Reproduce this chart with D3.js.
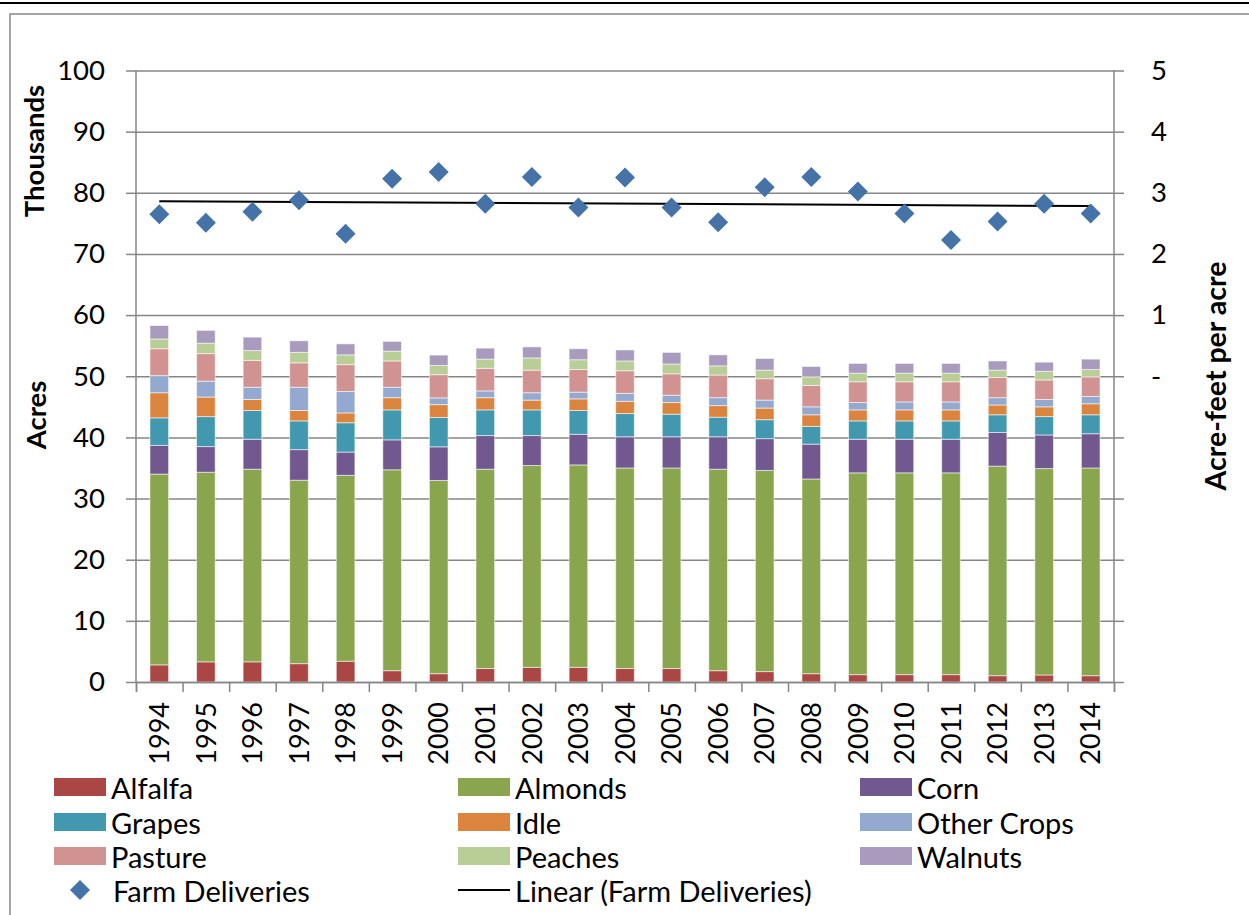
<!DOCTYPE html>
<html><head><meta charset="utf-8">
<script src="https://cdn.jsdelivr.net/npm/d3@7"></script>
<style>body{margin:0;background:#fff} text{font-family:Lato,"Open Sans",sans-serif;fill:#000}</style>
</head><body><svg id="c" width="1249" height="915"></svg>
<script>
const years = ["1994","1995","1996","1997","1998","1999","2000","2001","2002","2003","2004","2005","2006","2007","2008","2009","2010","2011","2012","2013","2014"];
const crops = ["Alfalfa","Almonds","Corn","Grapes","Idle","Other Crops","Pasture","Peaches","Walnuts"];
const cropColors = ["#AA4643","#89A54E","#71588F","#4198AF","#DB843D","#93A9CF","#D19392","#B9CD96","#A99BBD"];
// thousands of acres
const alfalfa    = [2.8,3.3,3.3,3.0,3.4,1.85,1.36,2.2,2.4,2.4,2.2,2.2,1.85,1.7,1.36,1.2,1.2,1.2,1.03,1.15,1.03];
const almonds    = [31.2,31.0,31.5,30.0,30.4,32.85,31.6,32.6,33.0,33.1,32.8,32.8,32.95,32.9,31.84,33.0,33.0,33.0,34.27,33.75,33.97];
const corn       = [4.7,4.2,4.9,5.0,3.8,4.9,5.5,5.5,4.9,5.0,5.1,5.1,5.3,5.2,5.7,5.5,5.5,5.5,5.5,5.5,5.6];
const grapes     = [4.5,4.9,4.7,4.7,4.8,4.9,4.8,4.2,4.2,3.9,3.8,3.7,3.2,3.1,2.9,3.0,3.0,3.0,2.9,3.0,3.1];
const idle       = [4.1,3.2,1.8,1.7,1.6,2.0,2.1,2.0,1.6,1.9,2.0,1.9,1.9,1.9,1.9,1.8,1.8,1.8,1.6,1.6,1.8];
const otherCrops = [2.8,2.6,2.0,3.8,3.5,1.7,1.1,1.1,1.2,1.1,1.3,1.2,1.3,1.3,1.3,1.2,1.3,1.3,1.2,1.2,1.2];
const pasture    = [4.4,4.5,4.4,4.0,4.4,4.3,3.8,3.7,3.7,3.7,3.7,3.5,3.7,3.5,3.5,3.4,3.3,3.3,3.3,3.2,3.2];
const peaches    = [1.6,1.7,1.6,1.7,1.6,1.6,1.5,1.5,2.0,1.6,1.6,1.6,1.5,1.4,1.4,1.4,1.4,1.4,1.2,1.4,1.2];
const walnuts    = [2.2,2.1,2.2,1.9,1.8,1.6,1.7,1.8,1.8,1.8,1.8,1.9,1.8,1.9,1.7,1.6,1.6,1.6,1.5,1.5,1.7];
// acre-feet per acre
const farmDeliveries = [2.65,2.51,2.69,2.88,2.33,3.23,3.34,2.82,3.26,2.76,3.25,2.76,2.52,3.09,3.26,3.02,2.66,2.23,2.53,2.82,2.66];
const leftTicks = [0,10,20,30,40,50,60,70,80,90,100];
const rightTicks = [-5,-4,-3,-2,-1,0,1,2,3,4,5];

const series = [alfalfa,almonds,corn,grapes,idle,otherCrops,pasture,peaches,walnuts];
const table = years.map((yr,i)=>{const o={year:yr}; crops.forEach((c,k)=>o[c]=series[k][i]); return o;});

const svg = d3.select("#c");
const L=136, R=1114, B=682, T=70.5;
const x = d3.scaleBand().domain(years).range([L,R]).paddingInner(0.6).paddingOuter(0.3);
const y = d3.scaleLinear().domain([0,100]).range([B,T]);
const y2 = d3.scaleLinear().domain([-5,5]).range([B,T]);
const grey="#868686";

// frame
svg.append("line").attr("x1",0).attr("x2",1249).attr("y1",3).attr("y2",3).attr("stroke","#000").attr("stroke-width",2);
svg.append("rect").attr("x",10).attr("y",14).attr("width",1300).attr("height",1000).attr("fill","none").attr("stroke",grey).attr("stroke-width",1.5);

// gridlines
const grid = svg.append("g").attr("transform",`translate(${L},0)`)
  .call(d3.axisLeft(y).tickValues(leftTicks).tickSize(-(R-L)).tickFormat(""));
grid.select(".domain").remove();
grid.selectAll("line").attr("stroke",grey).attr("stroke-width",1.5);

// stacked bars
const stack = d3.stack().keys(crops)(table);
const color = d3.scaleOrdinal().domain(crops).range(cropColors);
svg.append("g").selectAll("g").data(stack).join("g").attr("fill",d=>color(d.key))
  .selectAll("rect").data(d=>d).join("rect")
  .attr("x",d=>x(d.data.year)).attr("width",x.bandwidth())
  .attr("y",d=>y(d[1])).attr("height",d=>y(d[0])-y(d[1]))
  .attr("stroke","rgba(255,255,255,0.55)").attr("stroke-width",1);

// axes
const ax = svg.append("g").attr("transform",`translate(${L},0)`)
  .call(d3.axisLeft(y).tickValues(leftTicks).tickSize(10).tickPadding(21).tickFormat(d3.format("d")));
const ax2 = svg.append("g").attr("transform",`translate(${R},0)`)
  .call(d3.axisRight(y2).tickValues(rightTicks).tickSize(10).tickPadding(27).tickFormat(v=>v<0?"":(v===0?"-":String(v))));
const xi = d3.scaleLinear().domain([0,years.length]).range([L,R]);
const axb = svg.append("g").attr("transform",`translate(0,${B})`)
  .call(d3.axisBottom(xi).tickValues(d3.range(years.length+1)).tickSize(10).tickFormat(""));
const axl = svg.append("g").attr("transform",`translate(0,${B})`)
  .call(d3.axisBottom(x).tickSize(0).tickPadding(0));
axl.select(".domain").remove();
axl.selectAll("text").attr("transform","rotate(-90)").attr("text-anchor","end")
  .attr("x",-20).attr("y",0).attr("dy","0.36em").style("font-size","27px");
[ax,ax2,axb].forEach(g=>{g.selectAll("line").attr("stroke",grey).attr("stroke-width",1.5);
  g.select(".domain").attr("stroke",grey).attr("stroke-width",1.5);});
ax.select(".domain").attr("d",`M0,${B}V${T}`);
ax2.select(".domain").attr("d",`M0,${B}V${T}`);
[ax,ax2].forEach(g=>g.selectAll("text").style("font-size","27.5px"));

// trend line (least squares on farm deliveries)
const n=farmDeliveries.length, idx=d3.range(n);
const mx=d3.mean(idx), my=d3.mean(farmDeliveries);
const slope=d3.sum(idx,i=>(i-mx)*(farmDeliveries[i]-my))/d3.sum(idx,i=>(i-mx)*(i-mx));
const icpt=my-slope*mx;
const cx=i=>x(years[i])+x.bandwidth()/2;
svg.append("line").attr("x1",cx(0)).attr("x2",cx(n-1))
  .attr("y1",y2(icpt)).attr("y2",y2(icpt+slope*(n-1))).attr("stroke","#000").attr("stroke-width",2);

// diamonds
const diamond=d3.symbol(d3.symbolSquare,200);
svg.append("g").selectAll("path").data(farmDeliveries).join("path")
  .attr("d",diamond).attr("fill","#4572A7")
  .attr("transform",(d,i)=>`translate(${cx(i)},${y2(d)}) rotate(45)`);

// axis titles
svg.append("text").attr("transform","translate(33,151) rotate(-90)").attr("text-anchor","middle")
  .attr("dominant-baseline","central").style("font-weight","bold").style("font-size","27.5px").text("Thousands");
svg.append("text").attr("transform","translate(35,415) rotate(-90)").attr("text-anchor","middle")
  .attr("dominant-baseline","central").style("font-weight","bold").style("font-size","27.5px").text("Acres");
svg.append("text").attr("transform","translate(1215,376) rotate(-90)").attr("text-anchor","middle")
  .attr("dominant-baseline","central").style("font-weight","bold").style("font-size","28.5px").text("Acre-feet per acre");

// legend
const colX=[54,458,860], rowY=[787,822,856,890];
const lfs="29px";
const leg=svg.append("g");
crops.forEach((c,k)=>{
  const cxl=colX[k%3], cyl=rowY[Math.floor(k/3)];
  leg.append("rect").attr("x",cxl).attr("y",cyl-9).attr("width",52).attr("height",18).attr("fill",color(c));
  leg.append("text").attr("x",cxl+57).attr("y",cyl).attr("dominant-baseline","central").style("font-size",lfs).text(c);
});
leg.append("path").attr("d",d3.symbol(d3.symbolSquare,200)).attr("fill","#4572A7")
  .attr("transform",`translate(${colX[0]+26},${rowY[3]}) rotate(45)`);
leg.append("text").attr("x",colX[0]+59).attr("y",rowY[3]).attr("dominant-baseline","central").style("font-size",lfs).text("Farm Deliveries");
leg.append("line").attr("x1",colX[1]).attr("x2",colX[1]+52).attr("y1",rowY[3]).attr("y2",rowY[3]).attr("stroke","#000").attr("stroke-width",2);
leg.append("text").attr("x",colX[1]+57).attr("y",rowY[3]).attr("dominant-baseline","central").style("font-size",lfs).text("Linear (Farm Deliveries)");
</script></body></html>
